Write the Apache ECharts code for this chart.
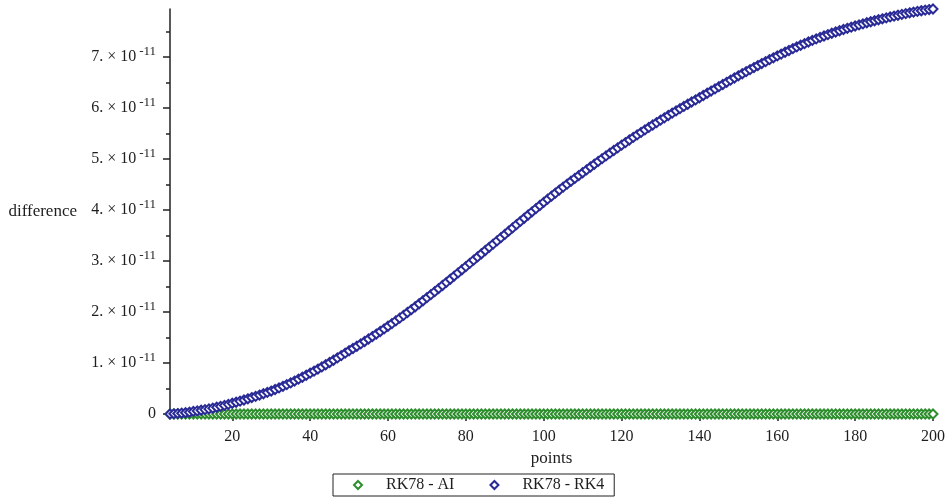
<!DOCTYPE html>
<html>
<head>
<meta charset="utf-8">
<script src="https://cdn.jsdelivr.net/npm/echarts@6/dist/echarts.min.js"></script>
<style>
  html, body { margin: 0; padding: 0; background: #fff; }
  #chart { width: 951px; height: 500px; }
</style>
</head>
<body>
<div id="chart"></div>
<script>
// x values: the points 4..200
var points = [];
for (var p = 4; p <= 200; p++) points.push(p);

// differences, in units of 1e-11
var rk4Diff = [
  0, 0.004, 0.009, 0.016, 0.024, 0.035, 0.050,
  0.061, 0.073, 0.086, 0.100, 0.115, 0.132, 0.150, 0.169, 0.189, 0.210,
  0.231, 0.253, 0.275, 0.298, 0.322, 0.346, 0.371, 0.397, 0.423, 0.450,
  0.480, 0.511, 0.543, 0.576, 0.610, 0.646, 0.683, 0.721, 0.760, 0.800,
  0.840, 0.881, 0.923, 0.966, 1.010, 1.054, 1.099, 1.145, 1.192, 1.240,
  1.284, 1.329, 1.375, 1.422, 1.470, 1.518, 1.567, 1.617, 1.668, 1.720,
  1.772, 1.825, 1.879, 1.934, 1.990, 2.046, 2.103, 2.161, 2.220, 2.280,
  2.339, 2.399, 2.459, 2.520, 2.581, 2.642, 2.704, 2.766, 2.828, 2.890,
  2.953, 3.016, 3.079, 3.142, 3.205, 3.268, 3.331, 3.394, 3.457, 3.520,
  3.584, 3.648, 3.712, 3.775, 3.838, 3.901, 3.964, 4.026, 4.088, 4.150,
  4.211, 4.271, 4.331, 4.390, 4.448, 4.506, 4.563, 4.619, 4.675, 4.730,
  4.786, 4.842, 4.897, 4.952, 5.006, 5.060, 5.113, 5.166, 5.218, 5.270,
  5.321, 5.372, 5.422, 5.472, 5.521, 5.570, 5.618, 5.666, 5.713, 5.760,
  5.806, 5.852, 5.897, 5.942, 5.986, 6.030, 6.073, 6.116, 6.158, 6.200,
  6.244, 6.288, 6.331, 6.374, 6.417, 6.460, 6.503, 6.546, 6.588, 6.630,
  6.671, 6.712, 6.752, 6.792, 6.831, 6.870, 6.908, 6.946, 6.983, 7.020,
  7.056, 7.092, 7.127, 7.162, 7.196, 7.229, 7.261, 7.293, 7.324, 7.354,
  7.383, 7.411, 7.438, 7.464, 7.489, 7.514, 7.538, 7.561, 7.584, 7.606,
  7.628, 7.649, 7.670, 7.690, 7.710, 7.729, 7.748, 7.766, 7.784, 7.801,
  7.818, 7.834, 7.850, 7.865, 7.879, 7.893, 7.906, 7.918, 7.929, 7.940
];

var aiDiff = [
  0, 0, 0, 0, 0, 0, 0,
  0, 0, 0, 0, 0, 0, 0, 0, 0, 0,
  0, 0, 0, 0, 0, 0, 0, 0, 0, 0,
  0, 0, 0, 0, 0, 0, 0, 0, 0, 0,
  0, 0, 0, 0, 0, 0, 0, 0, 0, 0,
  0, 0, 0, 0, 0, 0, 0, 0, 0, 0,
  0, 0, 0, 0, 0, 0, 0, 0, 0, 0,
  0, 0, 0, 0, 0, 0, 0, 0, 0, 0,
  0, 0, 0, 0, 0, 0, 0, 0, 0, 0,
  0, 0, 0, 0, 0, 0, 0, 0, 0, 0,
  0, 0, 0, 0, 0, 0, 0, 0, 0, 0,
  0, 0, 0, 0, 0, 0, 0, 0, 0, 0,
  0, 0, 0, 0, 0, 0, 0, 0, 0, 0,
  0, 0, 0, 0, 0, 0, 0, 0, 0, 0,
  0, 0, 0, 0, 0, 0, 0, 0, 0, 0,
  0, 0, 0, 0, 0, 0, 0, 0, 0, 0,
  0, 0, 0, 0, 0, 0, 0, 0, 0, 0,
  0, 0, 0, 0, 0, 0, 0, 0, 0, 0,
  0, 0, 0, 0, 0, 0, 0, 0, 0, 0,
  0, 0, 0, 0, 0, 0, 0, 0, 0, 0
];

var xTicks = [20, 40, 60, 80, 100, 120, 140, 160, 180, 200];
var xMinorTicks = [10, 30, 50, 70, 90, 110, 130, 150, 170, 190];
var yTicks = [0, 1, 2, 3, 4, 5, 6, 7];
var yMinorTicks = [0.5, 1.5, 2.5, 3.5, 4.5, 5.5, 6.5, 7.5];
var seriesNames = ['RK78 - AI', 'RK78 - RK4'];

var font = "'Liberation Serif', 'Times New Roman', serif";
var axisColor = '#222';
var textColor = '#1e1e1e';

function pairs(ys) {
  return points.map(function (x, i) { return [x, ys[i]]; });
}

var dom = document.getElementById('chart');
var myChart = echarts.init(dom);

var option = {
  animation: false,
  backgroundColor: '#fff',
  grid: { left: 170, right: 18, top: 9, bottom: 86 },
  legend: {
    data: seriesNames,
    left: 333,
    top: 474,
    icon: 'emptyDiamond',
    itemWidth: 8,
    itemHeight: 8,
    itemGap: 35,
    padding: [3, 10, 3, 20],
    borderColor: '#222',
    borderWidth: 1,
    borderRadius: 0,
    formatter: function (name) { return '{t|' + name + '}'; },
    textStyle: {
      fontFamily: font, fontSize: 16, color: textColor,
      rich: { t: { fontFamily: font, fontSize: 16, color: textColor, padding: [0, 0, 0, 19] } }
    }
  },
  xAxis: [{
    type: 'value',
    min: 4,
    max: 200,
    name: 'points',
    nameLocation: 'middle',
    nameGap: 35,
    nameTextStyle: { fontFamily: font, fontSize: 17, color: textColor },
    axisLine: { show: true, onZero: false, lineStyle: { color: axisColor, width: 1.5 } },
    axisTick: { show: true, length: 7, customValues: xTicks, lineStyle: { color: axisColor, width: 1.5 } },
    axisLabel: { customValues: xTicks, margin: 15, fontFamily: font, fontSize: 16, color: textColor },
    splitLine: { show: false }
  }, {
    type: 'value',
    min: 4,
    max: 200,
    position: 'bottom',
    axisLine: { show: false },
    axisTick: { show: true, length: 4, customValues: xMinorTicks, lineStyle: { color: axisColor, width: 1.5 } },
    axisLabel: { show: false },
    splitLine: { show: false }
  }],
  yAxis: [{
    type: 'value',
    min: 0,
    max: 7.94,
    name: 'difference',
    nameLocation: 'middle',
    nameRotate: 0,
    nameGap: 93,
    nameTextStyle: { fontFamily: font, fontSize: 17, color: textColor },
    axisLine: { show: true, onZero: false, lineStyle: { color: axisColor, width: 1.5 } },
    axisTick: { show: true, length: 7, customValues: yTicks, lineStyle: { color: axisColor, width: 1.5 } },
    axisLabel: {
      customValues: yTicks,
      margin: 14,
      fontFamily: font,
      fontSize: 16,
      color: textColor,
      formatter: function (v) {
        if (v === 0) return '0';
        return '{m|' + v + '. \u00d7 10}{e|-11}';
      },
      rich: {
        m: { fontFamily: font, fontSize: 16, color: textColor },
        e: { fontFamily: font, fontSize: 13, color: textColor, padding: [0, 0, 10, 3] }
      }
    },
    splitLine: { show: false }
  }, {
    type: 'value',
    min: 0,
    max: 7.94,
    position: 'left',
    axisLine: { show: false },
    axisTick: { show: true, length: 4, customValues: yMinorTicks, lineStyle: { color: axisColor, width: 1.5 } },
    axisLabel: { show: false },
    splitLine: { show: false }
  }],
  series: [{
    name: seriesNames[0],
    type: 'scatter',
    xAxisIndex: 0,
    yAxisIndex: 0,
    symbol: 'emptyDiamond',
    symbolSize: 9,
    clip: false,
    itemStyle: { color: '#2e8e2e', borderColor: '#2e8e2e', borderWidth: 1.8, opacity: 1 },
    data: pairs(aiDiff)
  }, {
    name: seriesNames[1],
    type: 'scatter',
    xAxisIndex: 0,
    yAxisIndex: 0,
    symbol: 'emptyDiamond',
    symbolSize: 9,
    clip: false,
    itemStyle: { color: '#2a2a96', borderColor: '#2a2a96', borderWidth: 1.8, opacity: 1 },
    data: pairs(rk4Diff)
  }]
};

if (option && typeof option === 'object') {
  myChart.setOption(option, true);
}
</script>
</body>
</html>
